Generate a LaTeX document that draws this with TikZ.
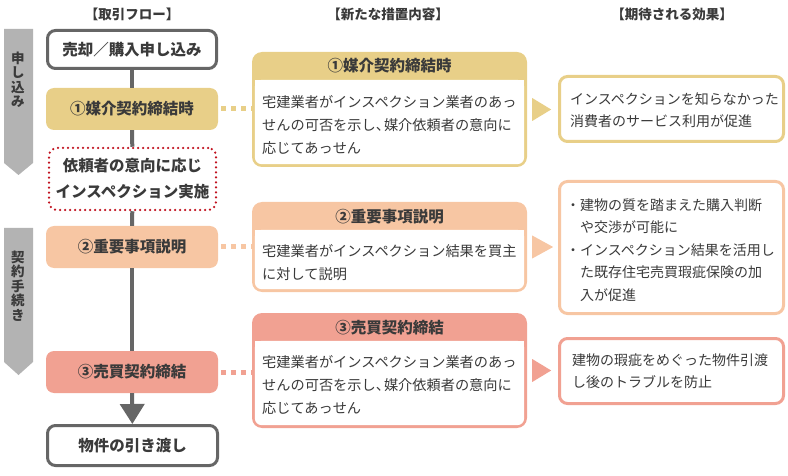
\documentclass[tikz,border=0pt]{standalone}
\usepackage{fontspec}
\setmainfont{Noto Sans CJK JP}
\usetikzlibrary{arrows.meta}

\definecolor{flowgray}{HTML}{666666}
\definecolor{phasegray}{HTML}{B3B3B3}
\definecolor{gold}{HTML}{E8CF88}
\definecolor{peach}{HTML}{F7C6A3}
\definecolor{salmon}{HTML}{F1A192}
\definecolor{inspred}{HTML}{C1121F}
\definecolor{txt}{HTML}{3A3A3A}

\begin{document}
\begin{tikzpicture}[x=1pt, y=-1pt,
        every node/.style={text=txt, inner sep=0pt},
        colhead/.style={font=\bfseries\fontsize{13.5pt}{15pt}\selectfont},
        phaselabel/.style={align=center, font=\bfseries\fontsize{13.5pt}{14.5pt}\selectfont},
        flowbox/.style={rounded corners=8pt, minimum width=169pt, minimum height=38pt,
            align=center, font=\bfseries\fontsize{15.5pt}{26pt}\selectfont},
        endbox/.style={flowbox, draw=flowgray, line width=3pt, fill=white},
        stepbox/.style={flowbox, minimum width=172pt, minimum height=42pt},
        midbox/.style={rounded corners=10pt, minimum width=275pt},
        midhead/.style={font=\bfseries\fontsize{15.5pt}{18pt}\selectfont},
        midtext/.style={anchor=west, align=left, font=\fontsize{14.2pt}{23pt}\selectfont},
        effectbox/.style={draw, line width=3pt, fill=white, rounded corners=8pt,
            minimum width=224pt, minimum height=65pt},
        effecttext/.style={anchor=west, align=left, font=\fontsize{14pt}{22.5pt}\selectfont},
        flowline/.style={draw=flowgray, line width=4pt},
        dotlink/.style={line width=5pt, dash pattern=on 5pt off 5pt, dash phase=7pt}]

    \useasboundingbox (0,0) rectangle (788,476);

    % column headings
    \node[colhead] (h1) at (132,14) {【取引フロー】};
    \node[colhead] (h2) at (388,14) {【新たな措置内容】};
    \node[colhead] (h3) at (672,14) {【期待される効果】};

    % phases
    \fill[phasegray] (4,29) -- (33,29) -- (33,163) -- (18.5,175) -- (4,163) -- cycle;
    \fill[phasegray] (4,228) -- (33,228) -- (33,362) -- (18.5,375) -- (4,362) -- cycle;
    \node[phaselabel] (p1) at (18,80) {申\\し\\込\\み};
    \node[phaselabel] (p2) at (18,286) {契\\約\\手\\続\\き};

    % transaction flow
    \node[endbox] (f1) at (132,49.5) {売却／購入申し込み};
    \node[stepbox, fill=gold] (f2) at (132,109) {①媒介契約締結時};
    \node[flowbox, draw=inspred, line width=2.5pt, dash pattern=on 0pt off 5pt, line cap=round,
        fill=white, minimum width=167pt, minimum height=62pt] (f3) at (132.5,179)
        {依頼者の意向に応じ\\インスペクション実施};
    \node[stepbox, fill=peach] (f4) at (132,247) {②重要事項説明};
    \node[stepbox, fill=salmon] (f5) at (132,372) {③売買契約締結};
    \node[endbox, minimum width=170pt, minimum height=40pt] (f6) at (132.5,445.5) {物件の引き渡し};

    \draw[flowline] (f1) -- (f2);
    \draw[flowline] (f2) -- (f3);
    \draw[flowline] (f3) -- (f4);
    \draw[flowline] (f4) -- (f5);
    \draw[flowline, -{Triangle[width=24pt,length=20pt]}] (f5) -- (f6);

    % new measures
    \node[midbox, fill=gold, minimum height=115pt] (m1) at (389.5,109.5) {};
    \node[midbox, fill=peach, minimum height=90pt] (m2) at (389.5,247) {};
    \node[midbox, fill=salmon, minimum height=115pt] (m3) at (389.5,370.5) {};
    \foreach \m in {m1,m2,m3} {
        \fill[white, rounded corners=7pt] ([xshift=3pt,yshift=-28pt]\m.north west)
            rectangle ([xshift=-3pt,yshift=3pt]\m.south east);
        \fill[white] ([xshift=3pt,yshift=-28pt]\m.north west)
            rectangle ([xshift=-3pt,yshift=-40pt]\m.north east);
    }
    \node[midhead] (m1h) at ([yshift=-14pt]m1.north) {①媒介契約締結時};
    \node[midhead] (m2h) at ([yshift=-15pt]m2.north) {②重要事項説明};
    \node[midhead] (m3h) at ([yshift=-15pt]m3.north) {③売買契約締結};
    \node[midtext] (m1t) at (262,125)
        {宅建業者がインスペクション業者のあっ\\せんの可否を示し、\kern-6pt媒介依頼者の意向に\\応じてあっせん};
    \node[midtext] (m2t) at (262,263)
        {宅建業者がインスペクション結果を買主\\に対して説明};
    \node[midtext] (m3t) at (262,385)
        {宅建業者がインスペクション業者のあっ\\せんの可否を示し、\kern-6pt媒介依頼者の意向に\\応じてあっせん};

    % links
    \draw[dotlink, gold] (f2.east) -- (f2.east -| m1.west);
    \draw[dotlink, peach] (f4.east) -- (f4.east -| m2.west);
    \draw[dotlink, salmon] (f5.east) -- (f5.east -| m3.west);

    % expected effects
    \node[effectbox, draw=gold] (r1) at (671.5,109) {};
    \node[effectbox, draw=peach, minimum height=132pt] (r2) at (671.5,247.5) {};
    \node[effectbox, draw=salmon] (r3) at (671.5,371) {};
    \node[effecttext] (r1t) at (570,110)
        {インスペクションを知らなかった\\消費者のサービス利用が促進};
    \node[effecttext] (r2t) at (566,250)
        {・建物の質を踏まえた購入判断\\\hspace*{14pt}や交渉が可能に\\・インスペクション結果を活用し\\\hspace*{14pt}た既存住宅売買瑕疵保険の加\\\hspace*{14pt}入が促進};
    \node[effecttext] (r3t) at (572,371)
        {建物の瑕疵をめぐった物件引渡\\し後のトラブルを防止};

    \fill[gold] ([xshift=5pt,yshift=11.5pt]m1.east) -- ([xshift=24pt]m1.east)
        -- ([xshift=5pt,yshift=-11.5pt]m1.east) -- cycle;
    \fill[peach] ([xshift=5pt,yshift=11.5pt]m2.east) -- ([xshift=26pt]m2.east)
        -- ([xshift=5pt,yshift=-11.5pt]m2.east) -- cycle;
    \fill[salmon] ([xshift=5pt,yshift=11.5pt]m3.east) -- ([xshift=24pt]m3.east)
        -- ([xshift=5pt,yshift=-11.5pt]m3.east) -- cycle;
\end{tikzpicture}
\end{document}
